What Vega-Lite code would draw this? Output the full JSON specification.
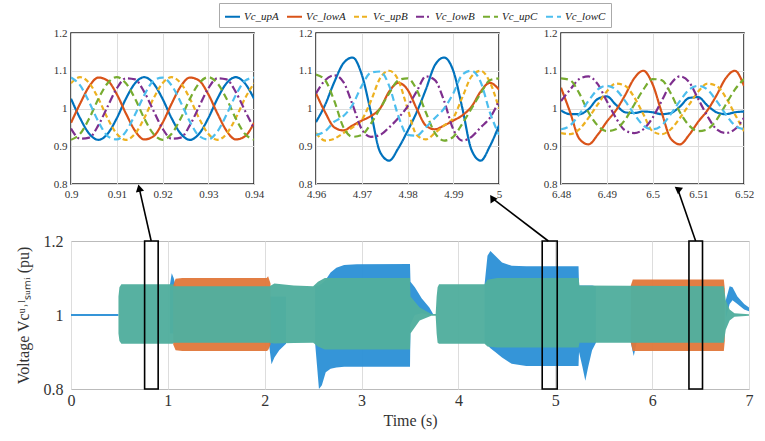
{
  "$schema": "https://vega.github.io/schema/vega-lite/v6.json",
  "background": "white",
  "padding": {"left": 14, "top": 2, "right": 5, "bottom": 5},
  "config": {
    "font": "Liberation Serif",
    "axis": {"labelFont": "Liberation Serif", "titleFont": "Liberation Serif", "labelColor": "#333", "titleColor": "#333", "titleFontWeight": "normal", "domain": false, "ticks": false, "gridColor": "#dddddd", "labelFlush": false, "labelOverlap": false},
    "legend": {"orient": "none", "legendX": 148, "legendY": -30, "direction": "horizontal", "symbolType": "stroke", "symbolSize": 225, "symbolStrokeWidth": 2, "labelFont": "Liberation Serif", "labelFontStyle": "italic", "labelFontSize": 11, "labelColor": "#222", "strokeColor": "#aaa", "fillColor": "white", "padding": 5, "columnPadding": 4, "labelOffset": 3}
  },
  "datasets": {
    "zoom": [
      {"p":1,"t":0.900,"Vc_upA":1.026,"Vc_lowA":0.962,"Vc_upB":1.067,"Vc_lowB":0.947,"Vc_upC":0.917,"Vc_lowC":1.082},
      {"p":1,"t":0.902,"Vc_upA":0.974,"Vc_lowA":1.013,"Vc_upB":1.083,"Vc_lowB":0.920,"Vc_upC":0.933,"Vc_lowC":1.061},
      {"p":1,"t":0.904,"Vc_upA":0.933,"Vc_lowA":1.059,"Vc_upB":1.067,"Vc_lowB":0.923,"Vc_upC":0.974,"Vc_lowC":1.016},
      {"p":1,"t":0.906,"Vc_upA":0.917,"Vc_lowA":1.082,"Vc_upB":1.026,"Vc_lowB":0.956,"Vc_upC":1.026,"Vc_lowC":0.965},
      {"p":1,"t":0.908,"Vc_upA":0.933,"Vc_lowA":1.074,"Vc_upB":0.974,"Vc_lowB":1.005,"Vc_upC":1.067,"Vc_lowC":0.927},
      {"p":1,"t":0.910,"Vc_upA":0.974,"Vc_lowA":1.038,"Vc_upB":0.933,"Vc_lowB":1.053,"Vc_upC":1.083,"Vc_lowC":0.918},
      {"p":1,"t":0.912,"Vc_upA":1.026,"Vc_lowA":0.987,"Vc_upB":0.917,"Vc_lowB":1.080,"Vc_upC":1.067,"Vc_lowC":0.939},
      {"p":1,"t":0.914,"Vc_upA":1.067,"Vc_lowA":0.941,"Vc_upB":0.933,"Vc_lowB":1.077,"Vc_upC":1.026,"Vc_lowC":0.984},
      {"p":1,"t":0.916,"Vc_upA":1.083,"Vc_lowA":0.918,"Vc_upB":0.974,"Vc_lowB":1.044,"Vc_upC":0.974,"Vc_lowC":1.035},
      {"p":1,"t":0.918,"Vc_upA":1.067,"Vc_lowA":0.926,"Vc_upB":1.026,"Vc_lowB":0.995,"Vc_upC":0.933,"Vc_lowC":1.073},
      {"p":1,"t":0.920,"Vc_upA":1.026,"Vc_lowA":0.962,"Vc_upB":1.067,"Vc_lowB":0.947,"Vc_upC":0.917,"Vc_lowC":1.082},
      {"p":1,"t":0.922,"Vc_upA":0.974,"Vc_lowA":1.013,"Vc_upB":1.083,"Vc_lowB":0.920,"Vc_upC":0.933,"Vc_lowC":1.061},
      {"p":1,"t":0.924,"Vc_upA":0.933,"Vc_lowA":1.059,"Vc_upB":1.067,"Vc_lowB":0.923,"Vc_upC":0.974,"Vc_lowC":1.016},
      {"p":1,"t":0.926,"Vc_upA":0.917,"Vc_lowA":1.082,"Vc_upB":1.026,"Vc_lowB":0.956,"Vc_upC":1.026,"Vc_lowC":0.965},
      {"p":1,"t":0.928,"Vc_upA":0.933,"Vc_lowA":1.074,"Vc_upB":0.974,"Vc_lowB":1.005,"Vc_upC":1.067,"Vc_lowC":0.927},
      {"p":1,"t":0.930,"Vc_upA":0.974,"Vc_lowA":1.038,"Vc_upB":0.933,"Vc_lowB":1.053,"Vc_upC":1.083,"Vc_lowC":0.918},
      {"p":1,"t":0.932,"Vc_upA":1.026,"Vc_lowA":0.987,"Vc_upB":0.917,"Vc_lowB":1.080,"Vc_upC":1.067,"Vc_lowC":0.939},
      {"p":1,"t":0.934,"Vc_upA":1.067,"Vc_lowA":0.941,"Vc_upB":0.933,"Vc_lowB":1.077,"Vc_upC":1.026,"Vc_lowC":0.984},
      {"p":1,"t":0.936,"Vc_upA":1.083,"Vc_lowA":0.918,"Vc_upB":0.974,"Vc_lowB":1.044,"Vc_upC":0.974,"Vc_lowC":1.035},
      {"p":1,"t":0.938,"Vc_upA":1.067,"Vc_lowA":0.926,"Vc_upB":1.026,"Vc_lowB":0.995,"Vc_upC":0.933,"Vc_lowC":1.073},
      {"p":1,"t":0.940,"Vc_upA":1.026,"Vc_lowA":0.962,"Vc_upB":1.067,"Vc_lowB":0.947,"Vc_upC":0.917,"Vc_lowC":1.082},
      {"p":2,"t":4.960,"Vc_upA":0.964,"Vc_lowA":1.040,"Vc_upB":0.935,"Vc_lowB":1.040,"Vc_upC":1.090,"Vc_lowC":0.930},
      {"p":2,"t":4.962,"Vc_upA":1.010,"Vc_lowA":0.990,"Vc_upB":0.915,"Vc_lowB":1.075,"Vc_upC":1.075,"Vc_lowC":0.940},
      {"p":2,"t":4.964,"Vc_upA":1.070,"Vc_lowA":0.950,"Vc_upB":0.920,"Vc_lowB":1.088,"Vc_upC":1.020,"Vc_lowC":0.965},
      {"p":2,"t":4.966,"Vc_upA":1.120,"Vc_lowA":0.942,"Vc_upB":0.935,"Vc_lowB":1.070,"Vc_upC":0.950,"Vc_lowC":0.980},
      {"p":2,"t":4.968,"Vc_upA":1.135,"Vc_lowA":0.955,"Vc_upB":0.950,"Vc_lowB":1.010,"Vc_upC":0.925,"Vc_lowC":1.010},
      {"p":2,"t":4.970,"Vc_upA":1.090,"Vc_lowA":0.968,"Vc_upB":0.970,"Vc_lowB":0.945,"Vc_upC":0.930,"Vc_lowC":1.060},
      {"p":2,"t":4.972,"Vc_upA":0.990,"Vc_lowA":0.980,"Vc_upB":1.020,"Vc_lowB":0.925,"Vc_upC":0.960,"Vc_lowC":1.095},
      {"p":2,"t":4.974,"Vc_upA":0.885,"Vc_lowA":1.000,"Vc_upB":1.080,"Vc_lowB":0.930,"Vc_upC":1.000,"Vc_lowC":1.098},
      {"p":2,"t":4.976,"Vc_upA":0.862,"Vc_lowA":1.045,"Vc_upB":1.100,"Vc_lowB":0.950,"Vc_upC":1.040,"Vc_lowC":1.060},
      {"p":2,"t":4.978,"Vc_upA":0.895,"Vc_lowA":1.068,"Vc_upB":1.075,"Vc_lowB":0.975,"Vc_upC":1.075,"Vc_lowC":0.980},
      {"p":2,"t":4.980,"Vc_upA":0.940,"Vc_lowA":1.050,"Vc_upB":1.000,"Vc_lowB":1.005,"Vc_upC":1.080,"Vc_lowC":0.930},
      {"p":2,"t":4.982,"Vc_upA":0.990,"Vc_lowA":1.000,"Vc_upB":0.930,"Vc_lowB":1.045,"Vc_upC":1.050,"Vc_lowC":0.928},
      {"p":2,"t":4.984,"Vc_upA":1.050,"Vc_lowA":0.955,"Vc_upB":0.918,"Vc_lowB":1.085,"Vc_upC":0.990,"Vc_lowC":0.950},
      {"p":2,"t":4.986,"Vc_upA":1.115,"Vc_lowA":0.945,"Vc_upB":0.935,"Vc_lowB":1.075,"Vc_upC":0.935,"Vc_lowC":0.975},
      {"p":2,"t":4.988,"Vc_upA":1.135,"Vc_lowA":0.955,"Vc_upB":0.955,"Vc_lowB":1.020,"Vc_upC":0.915,"Vc_lowC":1.000},
      {"p":2,"t":4.990,"Vc_upA":1.100,"Vc_lowA":0.968,"Vc_upB":0.975,"Vc_lowB":0.945,"Vc_upC":0.925,"Vc_lowC":1.040},
      {"p":2,"t":4.992,"Vc_upA":1.000,"Vc_lowA":0.982,"Vc_upB":1.030,"Vc_lowB":0.915,"Vc_upC":0.960,"Vc_lowC":1.090},
      {"p":2,"t":4.994,"Vc_upA":0.890,"Vc_lowA":1.005,"Vc_upB":1.085,"Vc_lowB":0.925,"Vc_upC":1.000,"Vc_lowC":1.100},
      {"p":2,"t":4.996,"Vc_upA":0.862,"Vc_lowA":1.045,"Vc_upB":1.100,"Vc_lowB":0.950,"Vc_upC":1.040,"Vc_lowC":1.070},
      {"p":2,"t":4.998,"Vc_upA":0.900,"Vc_lowA":1.068,"Vc_upB":1.070,"Vc_lowB":0.975,"Vc_upC":1.075,"Vc_lowC":0.990},
      {"p":2,"t":5.000,"Vc_upA":0.955,"Vc_lowA":1.050,"Vc_upB":1.000,"Vc_lowB":1.020,"Vc_upC":1.080,"Vc_lowC":0.930},
      {"p":3,"t":6.480,"Vc_upA":0.995,"Vc_lowA":1.055,"Vc_upB":0.935,"Vc_lowB":1.020,"Vc_upC":1.080,"Vc_lowC":0.945},
      {"p":3,"t":6.482,"Vc_upA":0.985,"Vc_lowA":0.990,"Vc_upB":0.932,"Vc_lowB":1.050,"Vc_upC":1.075,"Vc_lowC":0.955},
      {"p":3,"t":6.484,"Vc_upA":0.985,"Vc_lowA":0.920,"Vc_upB":0.945,"Vc_lowB":1.078,"Vc_upC":1.040,"Vc_lowC":0.985},
      {"p":3,"t":6.486,"Vc_upA":0.998,"Vc_lowA":0.905,"Vc_upB":0.975,"Vc_lowB":1.085,"Vc_upC":0.990,"Vc_lowC":1.020},
      {"p":3,"t":6.488,"Vc_upA":1.025,"Vc_lowA":0.930,"Vc_upB":1.010,"Vc_lowB":1.065,"Vc_upC":0.955,"Vc_lowC":1.050},
      {"p":3,"t":6.490,"Vc_upA":1.032,"Vc_lowA":0.965,"Vc_upB":1.045,"Vc_lowB":1.020,"Vc_upC":0.940,"Vc_lowC":1.060},
      {"p":3,"t":6.492,"Vc_upA":1.010,"Vc_lowA":0.995,"Vc_upB":1.066,"Vc_lowB":0.975,"Vc_upC":0.945,"Vc_lowC":1.050},
      {"p":3,"t":6.494,"Vc_upA":0.990,"Vc_lowA":1.035,"Vc_upB":1.060,"Vc_lowB":0.942,"Vc_upC":0.970,"Vc_lowC":1.020},
      {"p":3,"t":6.496,"Vc_upA":0.988,"Vc_lowA":1.080,"Vc_upB":1.030,"Vc_lowB":0.935,"Vc_upC":1.010,"Vc_lowC":0.985},
      {"p":3,"t":6.498,"Vc_upA":0.992,"Vc_lowA":1.100,"Vc_upB":0.985,"Vc_lowB":0.945,"Vc_upC":1.050,"Vc_lowC":0.955},
      {"p":3,"t":6.500,"Vc_upA":0.990,"Vc_lowA":1.065,"Vc_upB":0.940,"Vc_lowB":0.975,"Vc_upC":1.078,"Vc_lowC":0.945},
      {"p":3,"t":6.502,"Vc_upA":0.985,"Vc_lowA":0.990,"Vc_upB":0.932,"Vc_lowB":1.020,"Vc_upC":1.075,"Vc_lowC":0.955},
      {"p":3,"t":6.504,"Vc_upA":0.988,"Vc_lowA":0.920,"Vc_upB":0.945,"Vc_lowB":1.065,"Vc_upC":1.040,"Vc_lowC":0.985},
      {"p":3,"t":6.506,"Vc_upA":1.005,"Vc_lowA":0.905,"Vc_upB":0.975,"Vc_lowB":1.085,"Vc_upC":0.990,"Vc_lowC":1.020},
      {"p":3,"t":6.508,"Vc_upA":1.028,"Vc_lowA":0.930,"Vc_upB":1.010,"Vc_lowB":1.070,"Vc_upC":0.955,"Vc_lowC":1.050},
      {"p":3,"t":6.510,"Vc_upA":1.030,"Vc_lowA":0.965,"Vc_upB":1.045,"Vc_lowB":1.025,"Vc_upC":0.940,"Vc_lowC":1.060},
      {"p":3,"t":6.512,"Vc_upA":1.008,"Vc_lowA":0.995,"Vc_upB":1.066,"Vc_lowB":0.980,"Vc_upC":0.945,"Vc_lowC":1.050},
      {"p":3,"t":6.514,"Vc_upA":0.990,"Vc_lowA":1.035,"Vc_upB":1.060,"Vc_lowB":0.945,"Vc_upC":0.970,"Vc_lowC":1.020},
      {"p":3,"t":6.516,"Vc_upA":0.985,"Vc_lowA":1.080,"Vc_upB":1.030,"Vc_lowB":0.935,"Vc_upC":1.010,"Vc_lowC":0.985},
      {"p":3,"t":6.518,"Vc_upA":0.990,"Vc_lowA":1.100,"Vc_upB":0.985,"Vc_lowB":0.945,"Vc_upC":1.050,"Vc_lowC":0.955},
      {"p":3,"t":6.520,"Vc_upA":0.992,"Vc_lowA":1.060,"Vc_upB":0.940,"Vc_lowB":0.975,"Vc_upC":1.078,"Vc_lowC":0.945}
    ],
    "env": [
      {"g":"blue","s":"b0","t":0.0,"lo":0.997,"hi":1.003},
      {"g":"blue","s":"b0","t":0.49,"lo":0.997,"hi":1.003},
      {"g":"blue","s":"b1","t":1.02,"lo":0.95,"hi":1.08},
      {"g":"blue","s":"b1","t":1.04,"lo":0.95,"hi":1.113},
      {"g":"blue","s":"b1","t":1.06,"lo":0.95,"hi":1.10},
      {"g":"blue","s":"b1","t":1.08,"lo":0.95,"hi":1.08},
      {"g":"blue","s":"b2","t":2.04,"lo":0.93,"hi":1.05},
      {"g":"blue","s":"b2","t":2.07,"lo":0.867,"hi":1.05},
      {"g":"blue","s":"b2","t":2.10,"lo":0.885,"hi":1.05},
      {"g":"blue","s":"b2","t":2.15,"lo":0.905,"hi":1.05},
      {"g":"blue","s":"b2","t":2.22,"lo":0.922,"hi":1.05},
      {"g":"blue","s":"b3","t":2.52,"lo":0.925,"hi":1.08},
      {"g":"blue","s":"b3","t":2.56,"lo":0.80,"hi":1.08},
      {"g":"blue","s":"b3","t":2.59,"lo":0.81,"hi":1.085},
      {"g":"blue","s":"b3","t":2.63,"lo":0.845,"hi":1.095},
      {"g":"blue","s":"b3","t":2.68,"lo":0.855,"hi":1.115},
      {"g":"blue","s":"b3","t":2.74,"lo":0.858,"hi":1.128},
      {"g":"blue","s":"b3","t":2.82,"lo":0.86,"hi":1.135},
      {"g":"blue","s":"b3","t":2.95,"lo":0.86,"hi":1.137},
      {"g":"blue","s":"b3","t":3.50,"lo":0.86,"hi":1.138},
      {"g":"blue","s":"b3","t":3.505,"lo":0.975,"hi":1.09},
      {"g":"blue","s":"b3","t":3.55,"lo":1.0,"hi":1.075},
      {"g":"blue","s":"b3","t":3.62,"lo":1.005,"hi":1.045},
      {"g":"blue","s":"b3","t":3.70,"lo":1.0,"hi":1.02},
      {"g":"blue","s":"b3","t":3.74,"lo":1.0,"hi":1.002},
      {"g":"blue","s":"b4","t":4.27,"lo":0.925,"hi":1.083},
      {"g":"blue","s":"b4","t":4.30,"lo":0.918,"hi":1.16},
      {"g":"blue","s":"b4","t":4.33,"lo":0.91,"hi":1.173},
      {"g":"blue","s":"b4","t":4.38,"lo":0.90,"hi":1.16},
      {"g":"blue","s":"b4","t":4.45,"lo":0.885,"hi":1.142},
      {"g":"blue","s":"b4","t":4.55,"lo":0.868,"hi":1.133},
      {"g":"blue","s":"b4","t":4.70,"lo":0.862,"hi":1.132},
      {"g":"blue","s":"b4","t":5.24,"lo":0.862,"hi":1.132},
      {"g":"blue","s":"b4","t":5.245,"lo":0.90,"hi":1.08},
      {"g":"blue","s":"b4","t":5.28,"lo":0.86,"hi":1.08},
      {"g":"blue","s":"b4","t":5.31,"lo":0.822,"hi":1.08},
      {"g":"blue","s":"b4","t":5.34,"lo":0.86,"hi":1.08},
      {"g":"blue","s":"b4","t":5.38,"lo":0.905,"hi":1.08},
      {"g":"blue","s":"b4","t":5.42,"lo":0.925,"hi":1.078},
      {"g":"blue","s":"b5","t":5.78,"lo":0.925,"hi":1.0},
      {"g":"blue","s":"b5","t":5.81,"lo":0.889,"hi":1.0},
      {"g":"blue","s":"b5","t":5.84,"lo":0.925,"hi":1.0},
      {"g":"blue","s":"b6","t":6.76,"lo":0.99,"hi":1.04},
      {"g":"blue","s":"b6","t":6.80,"lo":1.03,"hi":1.078},
      {"g":"blue","s":"b6","t":6.83,"lo":1.04,"hi":1.075},
      {"g":"blue","s":"b6","t":6.88,"lo":1.03,"hi":1.05},
      {"g":"blue","s":"b6","t":6.95,"lo":1.015,"hi":1.03},
      {"g":"blue","s":"b6","t":7.0,"lo":1.01,"hi":1.02},
      {"g":"orange","s":"o1","t":1.055,"lo":0.92,"hi":1.08},
      {"g":"orange","s":"o1","t":1.08,"lo":0.905,"hi":1.098},
      {"g":"orange","s":"o1","t":1.15,"lo":0.903,"hi":1.10},
      {"g":"orange","s":"o1","t":2.02,"lo":0.903,"hi":1.10},
      {"g":"orange","s":"o1","t":2.035,"lo":0.905,"hi":1.105},
      {"g":"orange","s":"o1","t":2.06,"lo":0.92,"hi":1.085},
      {"g":"orange","s":"o2","t":5.78,"lo":0.925,"hi":1.08},
      {"g":"orange","s":"o2","t":5.80,"lo":0.903,"hi":1.096},
      {"g":"orange","s":"o2","t":6.74,"lo":0.903,"hi":1.096},
      {"g":"orange","s":"o2","t":6.75,"lo":0.93,"hi":1.07},
      {"g":"mix","s":"m1","t":0.49,"lo":0.95,"hi":1.05},
      {"g":"mix","s":"m1","t":0.50,"lo":0.93,"hi":1.075},
      {"g":"mix","s":"m1","t":0.52,"lo":0.922,"hi":1.083},
      {"g":"mix","s":"m1","t":1.05,"lo":0.922,"hi":1.083},
      {"g":"mix","s":"m1","t":1.06,"lo":0.925,"hi":1.078},
      {"g":"mix","s":"m1","t":2.05,"lo":0.925,"hi":1.078},
      {"g":"mix","s":"m1","t":2.10,"lo":0.923,"hi":1.085},
      {"g":"mix","s":"m1","t":2.30,"lo":0.924,"hi":1.08},
      {"g":"mix","s":"m1","t":2.50,"lo":0.925,"hi":1.078},
      {"g":"mix","s":"m1","t":2.55,"lo":0.915,"hi":1.09},
      {"g":"mix","s":"m1","t":2.62,"lo":0.907,"hi":1.10},
      {"g":"mix","s":"m1","t":3.50,"lo":0.907,"hi":1.10},
      {"g":"mix","s":"m1","t":3.505,"lo":0.95,"hi":1.05},
      {"g":"mix","s":"m1","t":3.60,"lo":0.985,"hi":1.02},
      {"g":"mix","s":"m1","t":3.72,"lo":0.998,"hi":1.003},
      {"g":"mix","s":"m1","t":3.765,"lo":0.998,"hi":1.003},
      {"g":"mix","s":"m1","t":3.775,"lo":0.95,"hi":1.05},
      {"g":"mix","s":"m1","t":3.785,"lo":0.925,"hi":1.075},
      {"g":"mix","s":"m1","t":3.80,"lo":0.922,"hi":1.083},
      {"g":"mix","s":"m1","t":4.27,"lo":0.922,"hi":1.083},
      {"g":"mix","s":"m1","t":4.30,"lo":0.915,"hi":1.095},
      {"g":"mix","s":"m1","t":4.40,"lo":0.912,"hi":1.10},
      {"g":"mix","s":"m1","t":5.24,"lo":0.912,"hi":1.10},
      {"g":"mix","s":"m1","t":5.25,"lo":0.925,"hi":1.08},
      {"g":"mix","s":"m1","t":6.74,"lo":0.925,"hi":1.078},
      {"g":"mix","s":"m1","t":6.76,"lo":0.96,"hi":1.04},
      {"g":"mix","s":"m1","t":6.80,"lo":0.985,"hi":1.015},
      {"g":"mix","s":"m1","t":6.85,"lo":0.995,"hi":1.005},
      {"g":"mix","s":"m1","t":7.0,"lo":0.998,"hi":1.002}
    ],
    "boxes": [
      {"id":1,"a":0.76,"b":0.90},
      {"id":2,"a":4.865,"b":5.02},
      {"id":3,"a":6.38,"b":6.52}
    ],
    "arrows": [
      {"id":1,"t0":0.828,"v0":1.2,"t1":0.704,"v1":1.343},
      {"id":2,"t0":4.928,"v0":1.2,"t1":4.348,"v1":1.316},
      {"id":3,"t0":6.449,"v0":1.2,"t1":6.263,"v1":1.341}
    ]
  },
  "bounds": "flush",
  "spacing": 208,
  "vconcat": [
    {
      "bounds": "flush",
      "spacing": 62,
      "hconcat": [
        {
          "width": 183, "height": 151,
          "data": {"name": "zoom"},
          "transform": [{"filter": "datum.p == 1"}, {"fold": ["Vc_upA","Vc_lowA","Vc_upB","Vc_lowB","Vc_upC","Vc_lowC"], "as": ["series","v"]}],
          "view": {"stroke": "#222", "strokeWidth": 1.5},
          "mark": {"type": "line", "strokeWidth": 2.2, "interpolate": "monotone", "clip": true},
          "encoding": {
            "x": {"field": "t", "type": "quantitative", "scale": {"domain": [0.9, 0.94], "nice": false, "zero": false}, "axis": {"values": [0.9, 0.91, 0.92, 0.93, 0.94], "format": "~g", "title": null, "labelFontSize": 11, "labelPadding": 4}},
            "y": {"field": "v", "type": "quantitative", "scale": {"domain": [0.8, 1.2], "nice": false, "zero": false}, "axis": {"values": [0.8, 0.9, 1, 1.1, 1.2], "format": "~g", "title": null, "labelFontSize": 11, "labelPadding": 4}},
            "color": {"field": "series", "type": "nominal", "sort": null, "scale": {"domain": ["Vc_upA","Vc_lowA","Vc_upB","Vc_lowB","Vc_upC","Vc_lowC"], "range": ["#0072BD","#D95319","#EDB120","#7E2F8E","#77AC30","#4DBEEE"]}, "legend": {"title": null}},
            "strokeDash": {"field": "series", "type": "nominal", "sort": null, "scale": {"domain": ["Vc_upA","Vc_lowA","Vc_upB","Vc_lowB","Vc_upC","Vc_lowC"], "range": [[1,0],[1,0],[5,3],[8,3,2,3],[7,4],[7,4]]}, "legend": {"title": null}}
          }
        },
        {
          "width": 183, "height": 151,
          "data": {"name": "zoom"},
          "transform": [{"filter": "datum.p == 2"}, {"fold": ["Vc_upA","Vc_lowA","Vc_upB","Vc_lowB","Vc_upC","Vc_lowC"], "as": ["series","v"]}],
          "view": {"stroke": "#222", "strokeWidth": 1.5},
          "mark": {"type": "line", "strokeWidth": 2.2, "interpolate": "monotone", "clip": true},
          "encoding": {
            "x": {"field": "t", "type": "quantitative", "scale": {"domain": [4.96, 5.0], "nice": false, "zero": false}, "axis": {"values": [4.96, 4.97, 4.98, 4.99, 5], "format": "~g", "title": null, "labelFontSize": 11, "labelPadding": 4}},
            "y": {"field": "v", "type": "quantitative", "scale": {"domain": [0.8, 1.2], "nice": false, "zero": false}, "axis": {"values": [0.8, 0.9, 1, 1.1, 1.2], "format": "~g", "title": null, "labelFontSize": 11, "labelPadding": 4}},
            "color": {"field": "series", "type": "nominal", "sort": null, "scale": {"domain": ["Vc_upA","Vc_lowA","Vc_upB","Vc_lowB","Vc_upC","Vc_lowC"], "range": ["#0072BD","#D95319","#EDB120","#7E2F8E","#77AC30","#4DBEEE"]}, "legend": {"title": null}},
            "strokeDash": {"field": "series", "type": "nominal", "sort": null, "scale": {"domain": ["Vc_upA","Vc_lowA","Vc_upB","Vc_lowB","Vc_upC","Vc_lowC"], "range": [[1,0],[1,0],[5,3],[8,3,2,3],[7,4],[7,4]]}, "legend": {"title": null}}
          }
        },
        {
          "width": 183, "height": 151,
          "data": {"name": "zoom"},
          "transform": [{"filter": "datum.p == 3"}, {"fold": ["Vc_upA","Vc_lowA","Vc_upB","Vc_lowB","Vc_upC","Vc_lowC"], "as": ["series","v"]}],
          "view": {"stroke": "#222", "strokeWidth": 1.5},
          "mark": {"type": "line", "strokeWidth": 2.2, "interpolate": "monotone", "clip": true},
          "encoding": {
            "x": {"field": "t", "type": "quantitative", "scale": {"domain": [6.48, 6.52], "nice": false, "zero": false}, "axis": {"values": [6.48, 6.49, 6.5, 6.51, 6.52], "format": "~g", "title": null, "labelFontSize": 11, "labelPadding": 4}},
            "y": {"field": "v", "type": "quantitative", "scale": {"domain": [0.8, 1.2], "nice": false, "zero": false}, "axis": {"values": [0.8, 0.9, 1, 1.1, 1.2], "format": "~g", "title": null, "labelFontSize": 11, "labelPadding": 4}},
            "color": {"field": "series", "type": "nominal", "sort": null, "scale": {"domain": ["Vc_upA","Vc_lowA","Vc_upB","Vc_lowB","Vc_upC","Vc_lowC"], "range": ["#0072BD","#D95319","#EDB120","#7E2F8E","#77AC30","#4DBEEE"]}, "legend": {"title": null}},
            "strokeDash": {"field": "series", "type": "nominal", "sort": null, "scale": {"domain": ["Vc_upA","Vc_lowA","Vc_upB","Vc_lowB","Vc_upC","Vc_lowC"], "range": [[1,0],[1,0],[5,3],[8,3,2,3],[7,4],[7,4]]}, "legend": {"title": null}}
          }
        }
      ]
    },
    {
      "width": 678, "height": 148,
      "view": {"stroke": "#bbbbbb", "strokeWidth": 1},
      "layer": [
        {
          "data": {"name": "env"},
          "transform": [{"filter": "datum.g == 'blue'"}],
          "mark": {"type": "area", "color": "#2a8fd6", "opacity": 0.95},
          "encoding": {
            "x": {"field": "t", "type": "quantitative", "title": "Time (s)", "scale": {"domain": [0, 7], "nice": false, "zero": false}, "axis": {"values": [0,1,2,3,4,5,6,7], "format": "~g", "labelFontSize": 16, "titleFontSize": 16, "labelPadding": 3, "titlePadding": 4}},
            "y": {"field": "lo", "type": "quantitative", "title": "Voltage Vcᵘ˒ˡₛᵤₘᵢ (pu)", "scale": {"domain": [0.8, 1.2], "nice": false, "zero": false}, "axis": {"values": [0.8, 1, 1.2], "format": "~g", "labelFontSize": 16, "titleFontSize": 16, "labelPadding": 8, "titlePadding": 12, "grid": false}},
            "y2": {"field": "hi"},
            "detail": {"field": "s"}
          }
        },
        {
          "data": {"name": "env"},
          "transform": [{"filter": "datum.g == 'orange'"}],
          "mark": {"type": "area", "color": "#e0773a", "opacity": 0.95},
          "encoding": {
            "x": {"field": "t", "type": "quantitative"},
            "y": {"field": "lo", "type": "quantitative"},
            "y2": {"field": "hi"},
            "detail": {"field": "s"}
          }
        },
        {
          "data": {"name": "env"},
          "transform": [{"filter": "datum.g == 'mix'"}],
          "mark": {"type": "area", "color": "#52ae9e", "opacity": 0.97},
          "encoding": {
            "x": {"field": "t", "type": "quantitative"},
            "y": {"field": "lo", "type": "quantitative"},
            "y2": {"field": "hi"},
            "detail": {"field": "s"}
          }
        },
        {
          "data": {"name": "boxes"},
          "mark": {"type": "rect", "fillOpacity": 0, "fill": "white", "stroke": "black", "strokeWidth": 1.6},
          "encoding": {
            "x": {"field": "a", "type": "quantitative"},
            "x2": {"field": "b"},
            "y": {"datum": 0.8},
            "y2": {"datum": 1.2}
          }
        },
        {
          "data": {"name": "arrows"},
          "mark": {"type": "rule", "stroke": "black", "strokeWidth": 1.6, "clip": false},
          "encoding": {
            "x": {"field": "t0", "type": "quantitative"},
            "y": {"field": "v0", "type": "quantitative"},
            "x2": {"field": "t1"},
            "y2": {"field": "v1"}
          }
        },
        {
          "data": {"name": "arrows"},
          "mark": {"type": "point", "shape": "triangle-up", "filled": true, "color": "black", "opacity": 1, "size": 70, "clip": false},
          "encoding": {
            "x": {"field": "t1", "type": "quantitative"},
            "y": {"field": "v1", "type": "quantitative"},
            "angle": {"field": "id", "type": "ordinal", "scale": {"domain": [1, 2, 3], "range": [347, 307, 341]}, "legend": null}
          }
        }
      ]
    }
  ]
}
